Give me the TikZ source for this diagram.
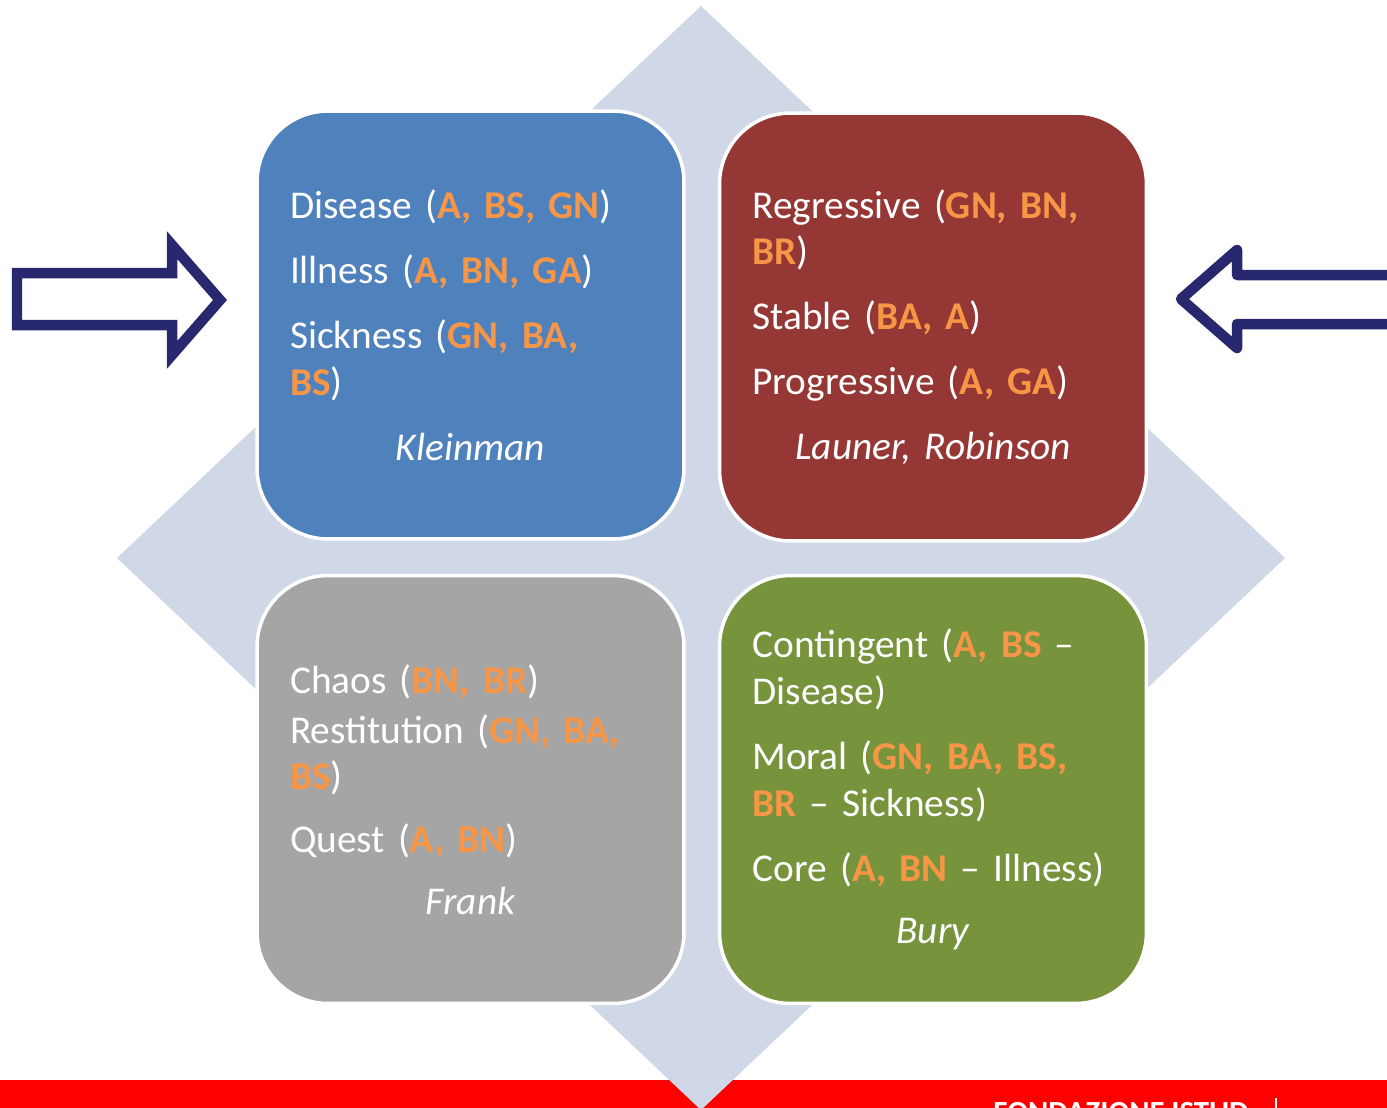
\documentclass[tikz,border=0pt]{standalone}
\usepackage{fontspec}
\setmainfont{Carlito}
\usepackage{xcolor}
\definecolor{qblue}{HTML}{4F81BD}
\definecolor{qred}{HTML}{953735}
\definecolor{qgray}{HTML}{A5A5A5}
\definecolor{qgreen}{HTML}{77933C}
\definecolor{codeorange}{HTML}{F79646}
\definecolor{diamondgray}{HTML}{D0D8E8}
\definecolor{navyarrow}{HTML}{28286F}
\newcommand{\orn}[1]{\textbf{\color{codeorange}#1}}
\newlength{\parsk}\setlength{\parsk}{10.5pt}
\frenchspacing

\begin{document}
\begin{tikzpicture}[x=0.02cm, y=-0.02cm,
    storybox/.style={draw=white, line width=0.07cm, rounded corners=1.42cm,
      minimum width=8.54cm, minimum height=8.56cm, inner sep=0pt,
      text width=7.22cm, align=left, text=white,
      font=\fontsize{22.4}{26.5}\selectfont},
    hollowarrow/.style={draw=navyarrow, line width=0.21cm, fill=white}]
  \useasboundingbox (0,0) rectangle (1387,1107);
  \clip (0,0) rectangle (1387,1107);

  % red footer
  \fill[red] (0,1080) rectangle (1387,1120);
  \node[anchor=north west, inner sep=0pt, text=white,
    font=\fontsize{17.5}{19}\bfseries] (istud) at (993,1102) {FONDAZIONE ISTUD};
  \draw[white, line width=0.03cm] (1276,1098) -- (1276,1120);

  % diamond behind
  \fill[diamondgray] (701,6) -- (1285,558) -- (701,1110) -- (117,558) -- cycle;

  \node[storybox, fill=qblue] (kleinman) at (470.5,325) {Disease (\orn{A, BS, GN})\\[\parsk]
    Illness (\orn{A, BN, GA})\\[\parsk]
    Sickness (\orn{GN, BA,}\\\orn{BS})\\[\parsk]
    \makebox[\linewidth]{\itshape Kleinman}};
  \node[storybox, fill=qred] (launer) at (933,327) {Regressive (\orn{GN, BN,}\\\orn{BR})\\[\parsk]
    Stable (\orn{BA, A})\\[\parsk]
    Progressive (\orn{A, GA})\\[\parsk]
    \makebox[\linewidth]{\itshape Launer, Robinson}};
  \node[storybox, fill=qgray] (frank) at (470.5,789.5) {Chaos (\orn{BN, BR})\\[2pt]
    Restitution (\orn{GN, BA,}\\\orn{BS})\\[9pt]
    Quest (\orn{A, BN})\\[9pt]
    \makebox[\linewidth]{\itshape Frank}};
  \node[storybox, fill=qgreen] (bury) at (933,789.5) {Contingent (\orn{A, BS} --\\Disease)\\[\parsk]
    Moral (\orn{GN, BA, BS,}\\\orn{BR} -- Sickness)\\[\parsk]
    \mbox{Core (\orn{A, BN} -- Illness)}\\[9pt]
    \makebox[\linewidth]{\itshape Bury}};

  % side arrows
  \draw[hollowarrow, line join=miter] (17,273) -- (172,273) -- (172,245) -- (220,300)
    -- (172,355) -- (172,325) -- (17,325) -- cycle;
  \draw[hollowarrow, line join=round] (1400,275) -- (1237,275) -- (1237,250) -- (1181,299)
    -- (1237,348) -- (1237,324) -- (1400,324);
\end{tikzpicture}
\end{document}
